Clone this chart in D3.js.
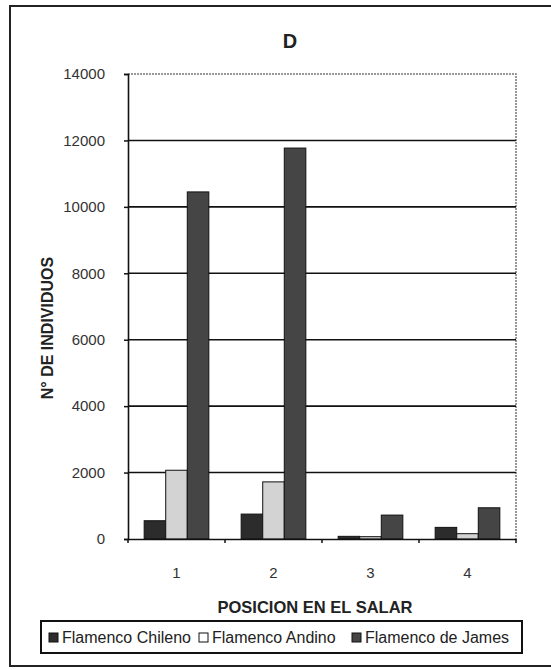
<!DOCTYPE html>
<html>
<head>
<meta charset="utf-8">
<script src="https://cdn.jsdelivr.net/npm/d3@7"></script>
<style>
  body { margin: 0; background: white; }
  svg { display: block; font-family: "Liberation Sans", Arial, sans-serif; }
</style>
</head>
<body>
<svg></svg>
<script>
// datos
const categories = ["1", "2", "3", "4"];
const seriesNames = ["Flamenco Chileno", "Flamenco Andino", "Flamenco de James"];
const chileno = [550, 750, 80, 350];
const andino = [2070, 1720, 70, 160];
const james = [10450, 11770, 720, 940];
const yTicks = [0, 2000, 4000, 6000, 8000, 10000, 12000, 14000];

const seriesValues = [chileno, andino, james];
const fills = ["#2c2c2c", "#d3d3d3", "#454545"];

const width = 551, height = 670;
const plotLeft = 128, plotRight = 516, plotTop = 74, plotBottom = 539;

const svg = d3.select("svg").attr("width", width).attr("height", height);

// marco exterior
svg.append("rect")
  .attr("x", 10).attr("y", 6)
  .attr("width", 570).attr("height", 660)
  .attr("fill", "white")
  .attr("stroke", "#222").attr("stroke-width", 2);

// escalas
const x0 = d3.scaleBand().domain(categories).range([plotLeft, plotRight]).padding(0);
const x1 = d3.scaleBand().domain(seriesNames).range([0, x0.bandwidth()])
  .paddingInner(0).paddingOuter(0.75);
const y = d3.scaleLinear().domain([0, 14000]).range([plotBottom, plotTop]);

// borde del area (punteado arriba y derecha)
svg.append("path")
  .attr("d", `M${plotLeft},${y(14000)}H${plotRight}V${y(0)}`)
  .attr("fill", "none")
  .attr("stroke", "#777").attr("stroke-width", 1.5)
  .attr("stroke-dasharray", "2,1");

// lineas de grilla
svg.selectAll(".grid")
  .data(yTicks.filter(d => d > 0 && d < 14000))
  .enter().append("line")
  .attr("class", "grid")
  .attr("x1", plotLeft).attr("x2", plotRight)
  .attr("y1", d => y(d)).attr("y2", d => y(d))
  .attr("stroke", "#111").attr("stroke-width", 1.6);

// barras
const rows = categories.map((c, i) => ({
  cat: c,
  vals: seriesNames.map((s, j) => ({ s, j, v: seriesValues[j][i] }))
}));

svg.selectAll(".grupo")
  .data(rows)
  .enter().append("g")
  .attr("class", "grupo")
  .attr("transform", d => `translate(${x0(d.cat)},0)`)
  .selectAll("rect")
  .data(d => d.vals)
  .enter().append("rect")
  .attr("x", d => x1(d.s))
  .attr("y", d => y(d.v))
  .attr("width", x1.bandwidth())
  .attr("height", d => y(0) - y(d.v))
  .attr("fill", d => fills[d.j])
  .attr("stroke", "#111").attr("stroke-width", 1);

// eje y
const yAxis = svg.append("g")
  .attr("transform", `translate(${plotLeft},0)`)
  .call(d3.axisLeft(y).tickValues(yTicks).tickSize(4).tickPadding(19).tickFormat(d3.format("d")));
yAxis.select(".domain").attr("stroke", "#111").attr("stroke-width", 1.6);
yAxis.selectAll(".tick line").attr("stroke", "#111").attr("stroke-width", 1.5);
yAxis.selectAll("text").attr("font-size", 15).attr("fill", "#333")
  .attr("font-family", "Liberation Sans, Arial, sans-serif");

// eje x
const xAxis = svg.append("g")
  .attr("transform", `translate(0,${plotBottom})`)
  .call(d3.axisBottom(x0).tickSize(0).tickPadding(28));
xAxis.select(".domain").attr("stroke", "#111").attr("stroke-width", 1.6);
xAxis.selectAll("text").attr("font-size", 15).attr("fill", "#333")
  .attr("font-family", "Liberation Sans, Arial, sans-serif");

// marcas entre categorias
svg.selectAll(".xtick")
  .data(d3.range(categories.length + 1))
  .enter().append("line")
  .attr("class", "xtick")
  .attr("x1", i => plotLeft + i * x0.step()).attr("x2", i => plotLeft + i * x0.step())
  .attr("y1", plotBottom).attr("y2", plotBottom + 4)
  .attr("stroke", "#111").attr("stroke-width", 1.5);

// titulos
svg.append("text")
  .attr("x", 290).attr("y", 48)
  .attr("text-anchor", "middle")
  .attr("font-size", 20).attr("font-weight", "bold").attr("fill", "#222")
  .text("D");

svg.append("text")
  .attr("x", 315).attr("y", 613)
  .attr("text-anchor", "middle")
  .attr("font-size", 16.5).attr("font-weight", "bold").attr("fill", "#222")
  .text("POSICION EN EL SALAR");

svg.append("text")
  .attr("transform", "translate(53,328) rotate(-90)")
  .attr("text-anchor", "middle")
  .attr("font-size", 16).attr("font-weight", "bold").attr("fill", "#222")
  .text("N° DE INDIVIDUOS");

// leyenda
const legend = svg.append("g");
legend.append("rect")
  .attr("x", 41).attr("y", 621)
  .attr("width", 481).attr("height", 32)
  .attr("fill", "white")
  .attr("stroke", "#111").attr("stroke-width", 2);

const legendX = [49, 199, 352];
const items = legend.selectAll(".item")
  .data(seriesNames)
  .enter().append("g")
  .attr("class", "item")
  .attr("transform", (d, i) => `translate(${legendX[i]},0)`);

items.append("rect")
  .attr("x", 0).attr("y", 633)
  .attr("width", 9).attr("height", 9)
  .attr("fill", (d, i) => i === 1 ? "white" : fills[i])
  .attr("stroke", "#111").attr("stroke-width", 1);

items.append("text")
  .attr("x", 13).attr("y", 643)
  .attr("font-size", 16).attr("fill", "#222")
  .text(d => d);
</script>
</body>
</html>
